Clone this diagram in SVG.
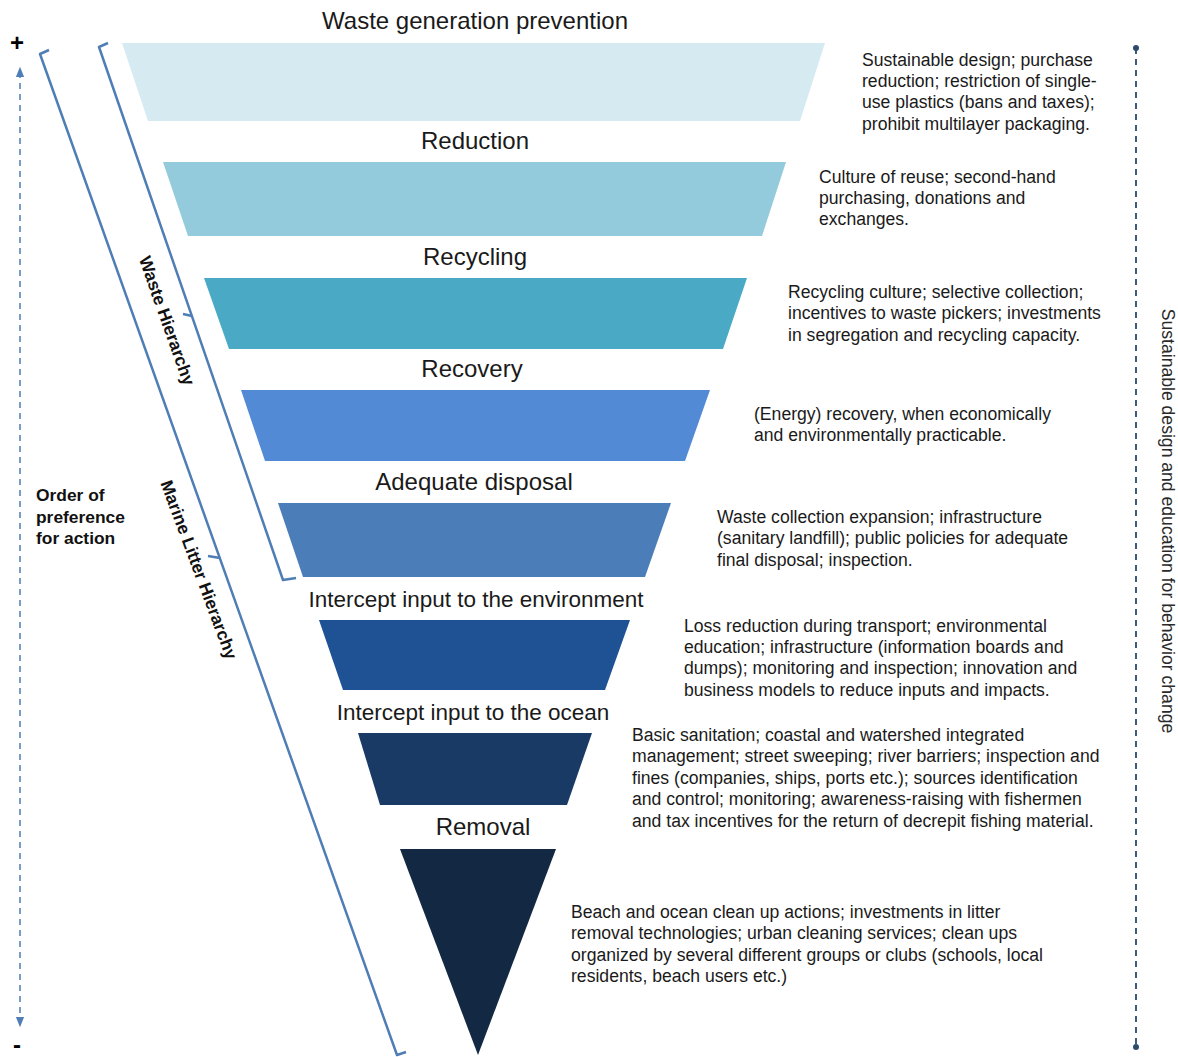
<svg xmlns="http://www.w3.org/2000/svg" width="1178" height="1057" viewBox="0 0 1178 1057">
  <defs>
    <style>
      .lvl { font-family: "Liberation Sans", Arial, sans-serif; font-size: 24px; fill: #1a1a1a; text-anchor: middle; }
      .lvl-sm { font-size: 22.5px; }
      .desc { font-family: "Liberation Sans", Arial, sans-serif; font-size: 17.6px; fill: #1a1a1a; }
      .side { font-family: "Liberation Sans", Arial, sans-serif; font-size: 17.4px; font-weight: bold; fill: #111; }
      .bracket { fill: none; stroke: #4f7db5; stroke-width: 2.5; stroke-linejoin: round; }
      .axis { fill: none; stroke: #4f7db5; stroke-width: 1.5; stroke-dasharray: 6 5; }
      .axis2 { fill: none; stroke: #2c4a6e; stroke-width: 1.8; stroke-dasharray: 6 5; }
      .sign { font-family: "Liberation Sans", Arial, sans-serif; font-size: 24px; font-weight: bold; fill: #000; }
    </style>
    <marker id="arrow" viewBox="0 0 10 10" refX="5" refY="5" markerWidth="7" markerHeight="7" orient="auto-start-reverse">
      <path d="M0,1 L10,5 L0,9 z" fill="#4f7db5"/>
    </marker>
  </defs>

  <rect width="1178" height="1057" fill="#ffffff"/>

  <!-- funnel levels -->
  <g id="level-prevention">
    <polygon points="122,43 825,43 800,121 148,121" fill="#d6eaf2"/>
    <text class="lvl" x="475" y="29">Waste generation prevention</text>
    <text class="desc" x="862" y="66">Sustainable design; purchase</text>
    <text class="desc" x="862" y="87">reduction; restriction of single-</text>
    <text class="desc" x="862" y="108">use plastics (bans and taxes);</text>
    <text class="desc" x="862" y="130">prohibit multilayer packaging.</text>
  </g>

  <g id="level-reduction">
    <polygon points="163,162 786,162 762,236 188,236" fill="#94cbdc"/>
    <text class="lvl" x="475" y="149">Reduction</text>
    <text class="desc" x="819" y="183">Culture of reuse; second-hand</text>
    <text class="desc" x="819" y="204">purchasing, donations and</text>
    <text class="desc" x="819" y="225">exchanges.</text>
  </g>

  <g id="level-recycling">
    <polygon points="204,278 747,278 723,349 229,349" fill="#4aaac6"/>
    <text class="lvl" x="475" y="265">Recycling</text>
    <text class="desc" x="788" y="298">Recycling culture; selective collection;</text>
    <text class="desc" x="788" y="319">incentives to waste pickers; investments</text>
    <text class="desc" x="788" y="341">in segregation and recycling capacity.</text>
  </g>

  <g id="level-recovery">
    <polygon points="241,390 710,390 685,461 265,461" fill="#538ad5"/>
    <text class="lvl" x="472" y="377">Recovery</text>
    <text class="desc" x="754" y="420">(Energy) recovery, when economically</text>
    <text class="desc" x="754" y="441">and environmentally practicable.</text>
  </g>

  <g id="level-disposal">
    <polygon points="278,503 671,503 645,577 303,577" fill="#4b7eb9"/>
    <text class="lvl" x="474" y="490">Adequate disposal</text>
    <text class="desc" x="717" y="523">Waste collection expansion; infrastructure</text>
    <text class="desc" x="717" y="544">(sanitary landfill); public policies for adequate</text>
    <text class="desc" x="717" y="566">final disposal; inspection.</text>
  </g>

  <g id="level-intercept-env">
    <polygon points="319,620 630,620 605,690 343,690" fill="#1f5195"/>
    <text class="lvl lvl-sm" x="476" y="607">Intercept input to the environment</text>
    <text class="desc" x="684" y="632">Loss reduction during transport; environmental</text>
    <text class="desc" x="684" y="653">education; infrastructure (information boards and</text>
    <text class="desc" x="684" y="674">dumps); monitoring and inspection; innovation and</text>
    <text class="desc" x="684" y="696">business models to reduce inputs and impacts.</text>
  </g>

  <g id="level-intercept-ocean">
    <polygon points="358,733 592,733 567,805 380,805" fill="#1a3a66"/>
    <text class="lvl lvl-sm" x="473" y="720">Intercept input to the ocean</text>
    <text class="desc" x="632" y="741">Basic sanitation; coastal and watershed integrated</text>
    <text class="desc" x="632" y="762">management; street sweeping; river barriers; inspection and</text>
    <text class="desc" x="632" y="784">fines (companies, ships, ports etc.); sources identification</text>
    <text class="desc" x="632" y="805">and control; monitoring; awareness-raising with fishermen</text>
    <text class="desc" x="632" y="827">and tax incentives for the return of decrepit fishing material.</text>
  </g>

  <g id="level-removal">
    <polygon points="400,849 556,849 478,1055" fill="#132843"/>
    <text class="lvl" x="483" y="835">Removal</text>
    <text class="desc" x="571" y="918">Beach and ocean clean up actions; investments in litter</text>
    <text class="desc" x="571" y="939">removal technologies; urban cleaning services; clean ups</text>
    <text class="desc" x="571" y="961">organized by several different groups or clubs (schools, local</text>
    <text class="desc" x="571" y="982">residents, beach users etc.)</text>
  </g>

  <!-- hierarchy brackets -->
  <g id="waste-hierarchy">
    <path class="bracket" d="M108,43 L99,47 L283,580 L296,578"/>
    <path class="bracket" d="M192,316 L183,314"/>
    <text class="side" transform="translate(166,321) rotate(70.5)" text-anchor="middle" dy="5">Waste Hierarchy</text>
  </g>

  <g id="marine-litter-hierarchy">
    <path class="bracket" d="M49,50 L40,54 L397,1055 L406,1052"/>
    <path class="bracket" d="M220,558 L208,556"/>
    <text class="side" transform="translate(198,570) rotate(69.5)" text-anchor="middle" dy="5">Marine Litter Hierarchy</text>
  </g>

  <!-- order of preference axis -->
  <g id="preference-axis">
    <text class="sign" x="10" y="51">+</text>
    <text class="sign" x="13" y="1053">-</text>
    <text class="side" x="36" y="501">Order of</text>
    <text class="side" x="36" y="523">preference</text>
    <text class="side" x="36" y="544">for action</text>
  </g>

  <!-- connectors -->
  <g id="connectors">
    <line class="axis" x1="20" y1="72" x2="20" y2="1022" marker-start="url(#arrow)" marker-end="url(#arrow)"/>
    <line class="axis2" x1="1136" y1="48" x2="1136" y2="1047"/>
    <circle cx="1136" cy="48" r="3" fill="#2c4a6e"/>
    <circle cx="1136" cy="1047" r="3" fill="#2c4a6e"/>
  </g>

  <g id="behavior-change">
    <text transform="translate(1162,521) rotate(90)" text-anchor="middle" style="font-family:'Liberation Sans',Arial,sans-serif;font-size:17.6px;fill:#2a2a2a">Sustainable design and education for behavior change</text>
  </g>
</svg>
